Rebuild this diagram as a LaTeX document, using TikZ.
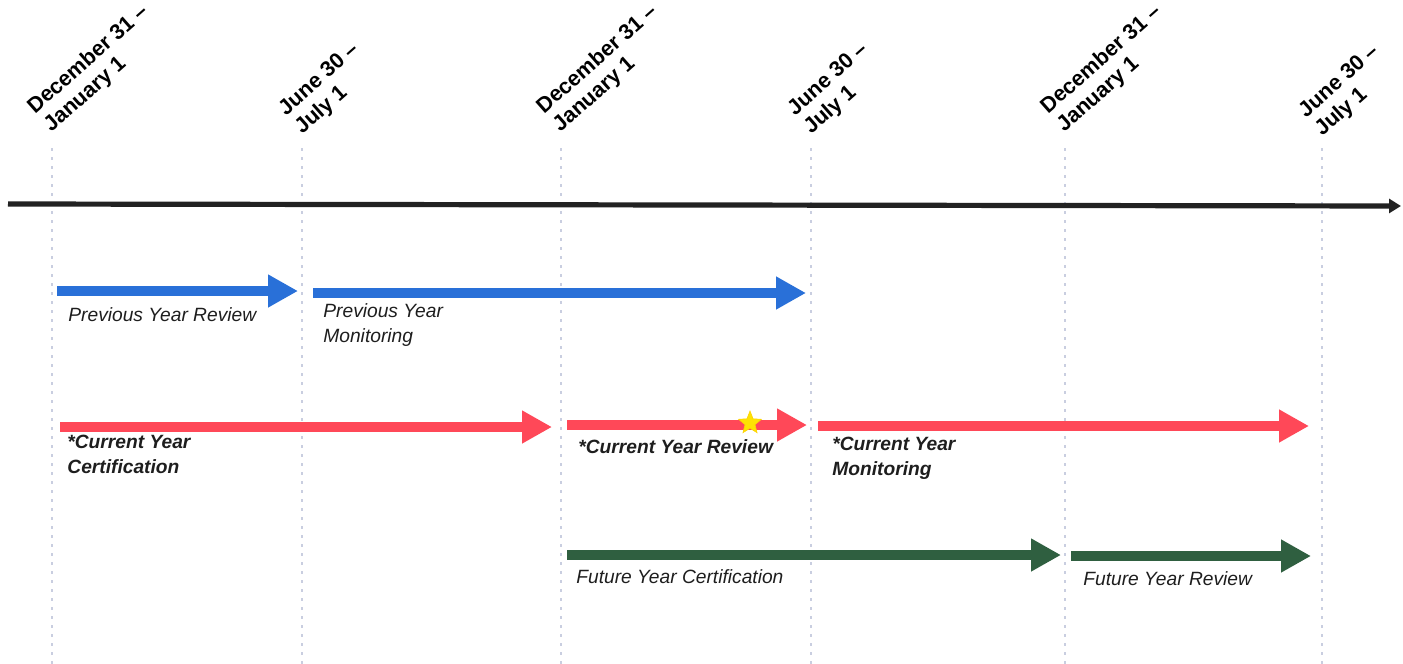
\documentclass[tikz,border=0pt]{standalone}
\usepackage{fontspec}
\setmainfont{Liberation Sans}
\usetikzlibrary{arrows.meta,shapes.geometric}
\definecolor{tlblue}{HTML}{2970D8}
\definecolor{tlred}{HTML}{FF4858}
\definecolor{tlgreen}{HTML}{2F5F40}
\definecolor{tlaxis}{HTML}{222222}
\definecolor{guidecol}{HTML}{C9CEE0}
\definecolor{textcol}{HTML}{1E1E1E}
\begin{document}
\begin{tikzpicture}[x=0.5pt,y=-0.5pt,
  guide/.style={draw=guidecol, line width=0.9pt, dash pattern=on 1.5pt off 3pt},
  bar/.style={line width=5.3pt, -{Triangle[length=15pt,width=15.5pt]}},
  datelbl/.style={rotate=41.5, anchor=base west, align=left, inner sep=0pt, text=black,
    font=\bfseries\fontsize{10.8}{12.3}\selectfont},
  lbl/.style={anchor=base west, align=left, inner sep=0pt, text=textcol,
    font=\itshape\fontsize{9.6}{12.5}\selectfont},
  blbl/.style={lbl, font=\bfseries\itshape\fontsize{9.6}{12.5}\selectfont}]
\useasboundingbox (0,0) rectangle (1403,664);
% guides
\foreach \n/\x in {g1/52,g2/302,g3/561,g4/811,g5/1065,g6/1322}{
  \coordinate (\n t) at (\x,148);
  \coordinate (\n b) at (\x,664);
  \draw[guide] (\n t) -- (\n b);
}
% date labels (anchor = start of second line)
\node[datelbl] (d1) at (51,133) {December 31 –\\January 1};
\node[datelbl] (d2) at (302,135) {June 30 –\\July 1};
\node[datelbl] (d3) at (560,133) {December 31 –\\January 1};
\node[datelbl] (d4) at (811,135) {June 30 –\\July 1};
\node[datelbl] (d5) at (1064,133) {December 31 –\\January 1};
\node[datelbl] (d6) at (1322,137) {June 30 –\\July 1};
% axis
\coordinate (axL) at (8,204);
\coordinate (axR) at (1401,206);
\draw[tlaxis, line width=2.6pt, -{Triangle[length=6pt,width=7pt]}] (axL) -- (axR);
% blue row
\coordinate (b1s) at (57,291); \coordinate (b1e) at (298,291);
\coordinate (b2s) at (313,293); \coordinate (b2e) at (806,293);
\draw[bar, tlblue] (b1s) -- (b1e);
\draw[bar, tlblue] (b2s) -- (b2e);
\node[lbl] (t1) at (68,321) {Previous Year Review};
\node[lbl] (t2) at (323,342) {Previous Year\\Monitoring};
% red row
\coordinate (r1s) at (60,427); \coordinate (r1e) at (552,427);
\coordinate (r2s) at (567,425); \coordinate (r2e) at (807,425);
\coordinate (r3s) at (818,426); \coordinate (r3e) at (1309,426);
\draw[bar, tlred] (r1s) -- (r1e);
\draw[bar, tlred] (r2s) -- (r2e);
\draw[bar, tlred] (r3s) -- (r3e);
\node[blbl] (t3) at (67,473) {*Current Year\\Certification};
\node[blbl] (t4) at (578,453) {*Current Year Review};
\node[blbl] (t5) at (832,475) {*Current Year\\Monitoring};
\node[star, star points=5, star point ratio=2.3, fill=yellow!85!orange, draw=yellow!70!orange, line width=0.3pt,
  minimum size=12pt, inner sep=0pt] (star) at (750,423) {};
% green row
\coordinate (f1s) at (567,555); \coordinate (f1e) at (1061,555);
\coordinate (f2s) at (1071,556); \coordinate (f2e) at (1311,556);
\draw[bar, tlgreen] (f1s) -- (f1e);
\draw[bar, tlgreen] (f2s) -- (f2e);
\node[lbl] (t6) at (576,583) {Future Year Certification};
\node[lbl] (t7) at (1083,585) {Future Year Review};
\end{tikzpicture}
\end{document}
